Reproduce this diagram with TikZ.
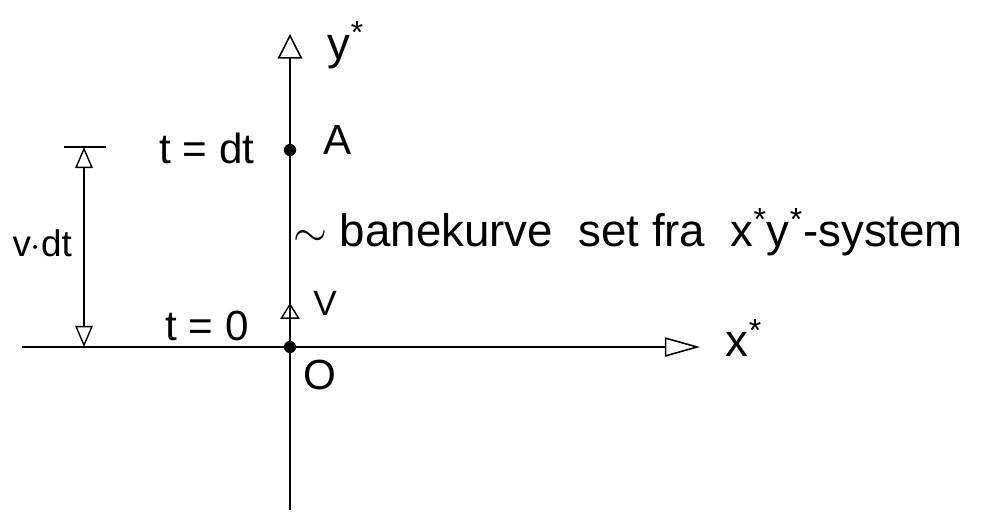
\documentclass[tikz,border=0pt]{standalone}
\usepackage{fontspec}
\setmainfont{Liberation Sans}
\usetikzlibrary{arrows.meta}

\tikzset{
  axis/.style={line width=0.9pt},
  xtip/.style={-{Triangle[open, length=20pt, width=11pt, line width=0.9pt]}},
  ytip/.style={-{Triangle[open, length=14pt, width=14pt, line width=0.9pt]}},
  dimline/.style={line width=0.7pt,
    {Triangle[open, length=12pt, width=10pt, line width=0.8pt]}-{Triangle[open, length=12pt, width=10pt, line width=0.8pt]}},
  vec/.style={line width=0.9pt, -{Triangle[open, length=9pt, width=11pt, line width=0.8pt]}},
  dot/.style={circle, fill=black, inner sep=0pt, minimum size=7pt},
  lbl/.style={font=\fontsize{24}{28}\selectfont, inner sep=1pt},
}

\begin{document}
\begin{tikzpicture}[x=0.02cm, y=-0.02cm]
  \useasboundingbox (0,0) rectangle (1000,513);

  % axes
  \coordinate (west) at (22,347);
  \coordinate (east) at (700,347);
  \coordinate (south) at (290,510);
  \coordinate (north) at (290,34);
  \draw[axis, xtip] (west) -- (east);
  \draw[axis, ytip] (south) -- (north);
  \node[lbl, font=\fontsize{26}{30}\selectfont] (xlab) at (744,338) {x\textsuperscript{*}};
  \node[lbl, font=\fontsize{26}{30}\selectfont] (ylab) at (346,45) {y\textsuperscript{*}};

  % points
  \node[dot] (O) at (290,347) {};
  \node[dot] (A) at (290,150) {};
  \node[lbl] (Olab) at (320,375) {O};
  \node[lbl] (Alab) at (338,140) {A};
  \node[lbl] (tdt) at (207,148) {t = dt};
  \node[lbl] (t0) at (207,326) {t = 0};

  % velocity
  \coordinate (vtip) at (290,303);
  \draw[vec] (O) -- (vtip);
  \node[lbl, font=\fontsize{20}{24}\selectfont] (vlab) at (325,303) {V};

  % path label
  \node[lbl, font=\fontsize{26}{30}\selectfont, anchor=west] (path) at (291,232)
    {$\sim$\ banekurve\ \ set fra\ \ x\textsuperscript{*}y\textsuperscript{*}-system};

  % dimension
  \coordinate (barl) at (64,147);
  \coordinate (barr) at (106,147);
  \coordinate (dtop) at (84,147);
  \coordinate (dbot) at (84,347);
  \draw[line width=0.8pt] (barl) -- (barr);
  \draw[dimline] (dbot) -- (dtop);
  \node[lbl, font=\fontsize{21}{25}\selectfont, anchor=east] (vdt) at (74,243) {v$\cdot$dt};
\end{tikzpicture}
\end{document}
